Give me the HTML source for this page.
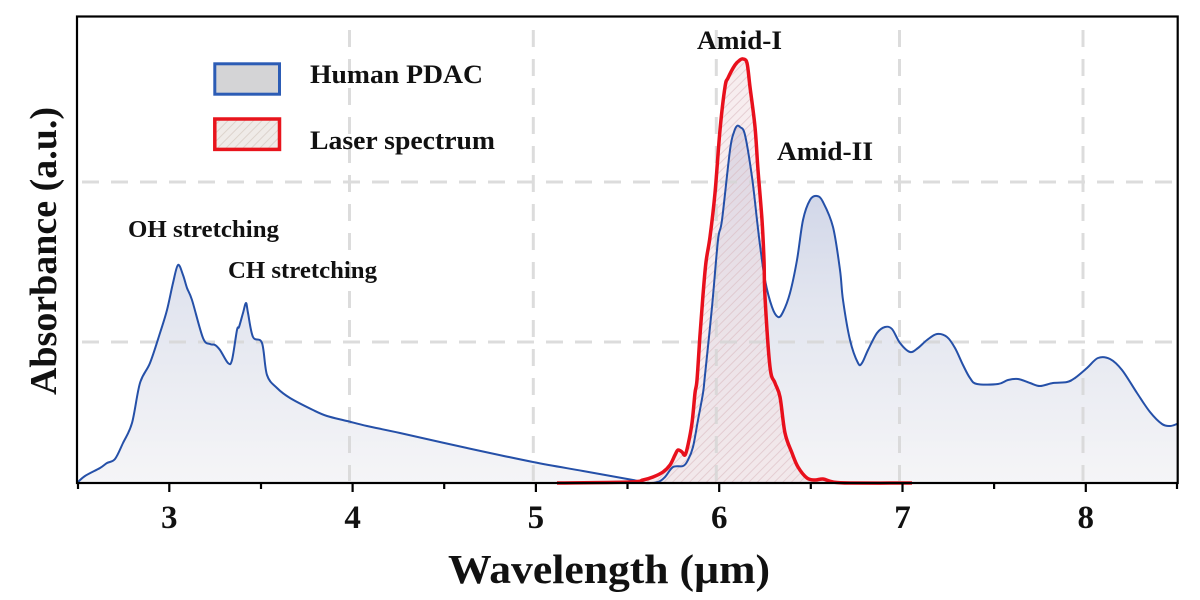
<!DOCTYPE html>
<html>
<head>
<meta charset="utf-8">
<style>
  html,body{margin:0;padding:0;background:#fff;}
  svg{display:block;}
  text{font-family:"Liberation Serif","Times New Roman",serif;font-weight:bold;fill:#111;}
</style>
</head>
<body>
<svg width="1200" height="600" viewBox="0 0 1200 600" xmlns="http://www.w3.org/2000/svg">
  <defs>
    <linearGradient id="bg" x1="0" y1="120" x2="0" y2="483" gradientUnits="userSpaceOnUse">
      <stop offset="0" stop-color="#c6cde4"/>
      <stop offset="0.5" stop-color="#e2e5ef"/>
      <stop offset="1" stop-color="#f5f5f7"/>
    </linearGradient>
    <pattern id="hatch" width="6" height="6" patternUnits="userSpaceOnUse" patternTransform="rotate(45)">
      <rect width="6" height="6" fill="#f0dde2" fill-opacity="0.55"/>
      <line x1="0" y1="0" x2="0" y2="6" stroke="#d6b5bc" stroke-width="2" stroke-opacity="0.55"/>
    </pattern>
    <pattern id="hatch2" width="6" height="6" patternUnits="userSpaceOnUse" patternTransform="rotate(45)">
      <rect width="6" height="6" fill="#efebe8"/>
      <line x1="0" y1="0" x2="0" y2="6" stroke="#dcd3cc" stroke-width="2"/>
    </pattern>
  </defs>

  <!-- blue fill -->
  <path id="bluefill" fill="url(#bg)" d="M77,483 L85,476 L100,468 L107,463 L115,459 L123,443 L132,423 L140,383 L150,363 L160,333 L167,310 L173,283 L178,265 L183,275 L187,288 L192,300 L203,338 L210,344 L215,345 L220,350 L228,363 L232,360 L237,330 L239,327 L243,313 L246,303 L248,313 L253,337 L262,343 L267,375 L277,388 L290,398 L313,410 L327,416 L347,421 L367,426 L400,433 L467,448 L533,462 L583,471 L633,480 L645,483 L658,482 L665,477 L673,467 L683,466 L688,460 L693,447 L698,420 L703,393 L705,375 L712,307 L718,240 L722,220 L730,150 L734,132 L737,126 L740,127 L745,135 L752,177 L757,220 L760,245 L765,280 L772,307 L778,317 L783,312 L790,293 L797,260 L803,220 L810,200 L817,196 L823,202 L833,227 L840,270 L843,300 L850,340 L858,363 L862,363 L868,350 L877,333 L885,327 L892,329 L900,343 L910,352 L918,348 L927,340 L937,334 L947,337 L955,348 L963,365 L970,378 L977,384 L998,384 L1008,380 L1018,379 L1030,383 L1040,386 L1053,383 L1067,382 L1075,378 L1087,368 L1098,358 L1110,359 L1122,370 L1137,393 L1150,412 L1162,424 L1170,426 L1177,424 L1177,483 Z"/>

  <!-- red fill -->
  <path id="redfill" fill="url(#hatch)" d="M557,483 L630,482 L643,480 L653,477 L663,472 L670,465 L675,455 L678,450 L682,452 L685,455 L688,445 L692,423 L695,393 L697,380 L700,335 L703,295 L706,262 L710,237 L715,193 L720,130 L725,87 L728,78 L735,65 L740,60 L743,59 L747,63 L750,87 L755,127 L758,170 L762,220 L764,260 L765,297 L770,367 L775,383 L780,397 L785,433 L792,453 L798,467 L807,478 L815,480 L823,479 L833,482 L850,483 L912,483 Z"/>

  <!-- grid -->
  <g stroke="#d6d6d6" stroke-width="3" stroke-dasharray="17 12" fill="none" opacity="0.85">
    <line x1="82" y1="182" x2="1175" y2="182"/>
    <line x1="82" y1="342" x2="1175" y2="342"/>
    <line x1="349.5" y1="30" x2="349.5" y2="481"/>
    <line x1="533.3" y1="30" x2="533.3" y2="481"/>
    <line x1="716.3" y1="30" x2="716.3" y2="481"/>
    <line x1="899.5" y1="30" x2="899.5" y2="481"/>
    <line x1="1083" y1="30" x2="1083" y2="481"/>
  </g>

  <!-- blue line -->
  <path id="blueline" fill="none" stroke="#2550a8" stroke-width="2" stroke-linejoin="round" d="M77,483 L85,476 L100,468 L107,463 L115,459 L123,443 L132,423 L140,383 L150,363 L160,333 L167,310 L173,283 L178,265 L183,275 L187,288 L192,300 L203,338 L210,344 L215,345 L220,350 L228,363 L232,360 L237,330 L239,327 L243,313 L246,303 L248,313 L253,337 L262,343 L267,375 L277,388 L290,398 L313,410 L327,416 L347,421 L367,426 L400,433 L467,448 L533,462 L583,471 L633,480 L645,483 L658,482 L665,477 L673,467 L683,466 L688,460 L693,447 L698,420 L703,393 L705,375 L712,307 L718,240 L722,220 L730,150 L734,132 L737,126 L740,127 L745,135 L752,177 L757,220 L760,245 L765,280 L772,307 L778,317 L783,312 L790,293 L797,260 L803,220 L810,200 L817,196 L823,202 L833,227 L840,270 L843,300 L850,340 L858,363 L862,363 L868,350 L877,333 L885,327 L892,329 L900,343 L910,352 L918,348 L927,340 L937,334 L947,337 L955,348 L963,365 L970,378 L977,384 L998,384 L1008,380 L1018,379 L1030,383 L1040,386 L1053,383 L1067,382 L1075,378 L1087,368 L1098,358 L1110,359 L1122,370 L1137,393 L1150,412 L1162,424 L1170,426 L1177,424"/>

  <!-- red line -->
  <path id="redline" fill="none" stroke="#e8101c" stroke-width="3.5" stroke-linejoin="round" d="M557,483 L630,482 L643,480 L653,477 L663,472 L670,465 L675,455 L678,450 L682,452 L685,455 L688,445 L692,423 L695,393 L697,380 L700,335 L703,295 L706,262 L710,237 L715,193 L720,130 L725,87 L728,78 L735,65 L740,60 L743,59 L747,63 L750,87 L755,127 L758,170 L762,220 L764,260 L765,297 L770,367 L775,383 L780,397 L785,433 L792,453 L798,467 L807,478 L815,480 L823,479 L833,482 L850,483 L912,483"/>

  <!-- frame -->
  <rect x="77" y="16.5" width="1100.7" height="466.5" fill="none" stroke="#000" stroke-width="2.2"/>

  <!-- ticks -->
  <g stroke="#000" stroke-width="2.2">
    <line x1="169.3" y1="483" x2="169.3" y2="492"/>
    <line x1="352.6" y1="483" x2="352.6" y2="492"/>
    <line x1="535.9" y1="483" x2="535.9" y2="492"/>
    <line x1="719.2" y1="483" x2="719.2" y2="492"/>
    <line x1="902.5" y1="483" x2="902.5" y2="492"/>
    <line x1="1085.8" y1="483" x2="1085.8" y2="492"/>
    <line x1="78" y1="483" x2="78" y2="489"/>
    <line x1="261" y1="483" x2="261" y2="489"/>
    <line x1="444.2" y1="483" x2="444.2" y2="489"/>
    <line x1="627.5" y1="483" x2="627.5" y2="489"/>
    <line x1="810.8" y1="483" x2="810.8" y2="489"/>
    <line x1="994.1" y1="483" x2="994.1" y2="489"/>
    <line x1="1177" y1="483" x2="1177" y2="489"/>
  </g>

  <!-- tick labels -->
  <g font-size="33" text-anchor="middle">
    <text x="169.3" y="528">3</text>
    <text x="352.6" y="528">4</text>
    <text x="535.9" y="528">5</text>
    <text x="719.2" y="528">6</text>
    <text x="902.5" y="528">7</text>
    <text x="1085.8" y="528">8</text>
  </g>

  <!-- axis labels -->
  <text x="448" y="583" font-size="41" textLength="322" lengthAdjust="spacingAndGlyphs">Wavelength (µm)</text>
  <text x="0" y="0" font-size="38" text-anchor="middle" textLength="288" lengthAdjust="spacingAndGlyphs" transform="translate(56,251) rotate(-90)">Absorbance (a.u.)</text>

  <!-- legend -->
  <rect x="214.8" y="63.8" width="64.7" height="30.4" fill="#d4d4d6" stroke="#2c5cb5" stroke-width="3"/>
  <rect x="214.8" y="119" width="64.7" height="30.4" fill="url(#hatch2)" stroke="#e8141c" stroke-width="3.5"/>
  <text x="310" y="83" font-size="26" textLength="173" lengthAdjust="spacingAndGlyphs">Human PDAC</text>
  <text x="310" y="149" font-size="26" textLength="185" lengthAdjust="spacingAndGlyphs">Laser spectrum</text>

  <!-- annotations -->
  <text x="128" y="237" font-size="24" textLength="151" lengthAdjust="spacingAndGlyphs">OH stretching</text>
  <text x="228" y="278" font-size="24" textLength="149" lengthAdjust="spacingAndGlyphs">CH stretching</text>
  <text x="697" y="49" font-size="26" textLength="85" lengthAdjust="spacingAndGlyphs">Amid-I</text>
  <text x="777" y="160" font-size="26" textLength="96" lengthAdjust="spacingAndGlyphs">Amid-II</text>
</svg>
<script>
(function(){
  function parse(d){
    var m = d.match(/-?\d+(\.\d+)?/g).map(Number), p=[];
    for(var i=0;i+1<m.length;i+=2) p.push([m[i],m[i+1]]);
    return p;
  }
  function smooth(p){
    var s="M"+p[0][0]+","+p[0][1];
    for(var i=0;i<p.length-1;i++){
      var p0=p[i>0?i-1:i], p1=p[i], p2=p[i+1], p3=p[i+2<p.length?i+2:i+1];
      var c1x=p1[0]+(p2[0]-p0[0])/6, c1y=p1[1]+(p2[1]-p0[1])/6;
      var c2x=p2[0]-(p3[0]-p1[0])/6, c2y=p2[1]-(p3[1]-p1[1])/6;
      s+=" C"+c1x.toFixed(2)+","+c1y.toFixed(2)+" "+c2x.toFixed(2)+","+c2y.toFixed(2)+" "+p2[0]+","+p2[1];
    }
    return s;
  }
  try{
    var bl=document.getElementById("blueline"), rl=document.getElementById("redline");
    var bp=parse(bl.getAttribute("d")), rp=parse(rl.getAttribute("d"));
    var bs=smooth(bp), rs=smooth(rp);
    bl.setAttribute("d",bs); rl.setAttribute("d",rs);
    document.getElementById("bluefill").setAttribute("d",bs+" L1177,483 L77,483 Z");
    document.getElementById("redfill").setAttribute("d",rs+" Z");
  }catch(e){}
})();
</script>
</body>
</html>
